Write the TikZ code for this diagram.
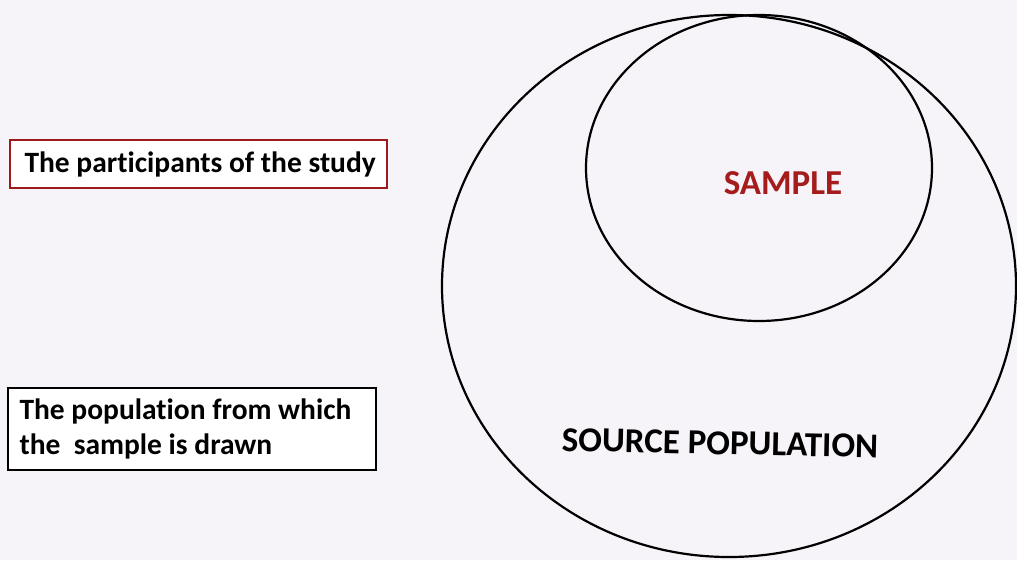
\documentclass[tikz,border=0pt]{standalone}
\usepackage{fontspec}
\setmainfont{Carlito}[Ligatures=NoCommon]
\definecolor{bg}{HTML}{F7F4F9}
\definecolor{darkred}{HTML}{A51C1C}
\definecolor{boxred}{HTML}{9E1B1B}
\begin{document}
\begin{tikzpicture}[x=1pt,y=-1pt,
  lbl/.style={font=\bfseries\fontsize{29.5}{35}\selectfont, text=black, anchor=center},
  big/.style={font=\bfseries\fontsize{35}{40}\selectfont, anchor=center},
  boxframe/.style={draw, line width=2.6pt, fill=white, inner sep=0pt},
  ring/.style={draw=black, line width=2.2pt}]
\fill[bg] (0,0) rectangle (1017,560);
\useasboundingbox (0,0) rectangle (1017,560);
% outer and inner circles
\draw[ring] (729,286) ellipse [x radius=287, y radius=271];
\draw[ring] (759,168) ellipse [x radius=173, y radius=153];
% labels in circles
\node[big, text=darkred] (sample) at (783,183) {SAMPLE};
\node[big, text=black, rotate=-1.2] (source) at (720,443) {SOURCE POPULATION};
% boxes
\node[boxframe, draw=boxred, minimum width=377pt, minimum height=48pt] (part) at (198.5,164) {};
\node[lbl, anchor=west] (partt) at (21,164) {The participants of the study};
\node[boxframe, draw=black, minimum width=368pt, minimum height=82pt] (pop) at (192,429) {};
\node[lbl, anchor=west, align=left] (popt) at (16,429) {The population from which\\the\ \ sample is drawn};
\end{tikzpicture}
\end{document}
